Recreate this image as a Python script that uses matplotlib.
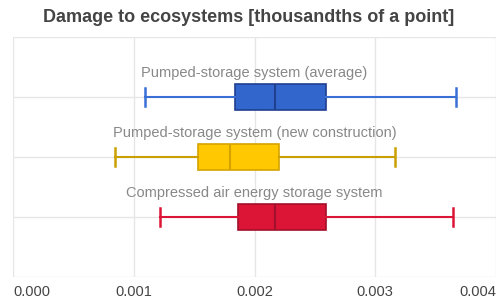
import matplotlib
matplotlib.use("Agg")
import matplotlib.pyplot as plt

plt.rcParams['font.family'] = ['Liberation Sans', 'DejaVu Sans']

categories = ["Compressed air energy storage system",
              "Pumped-storage system (new construction)",
              "Pumped-storage system (average)"]
whislo = [0.00122, 0.000843, 0.00109]
q1 = [0.001865, 0.00153, 0.00184]
med = [0.00217, 0.00180, 0.00217]
q3 = [0.00259, 0.00220, 0.00259]
whishi = [0.00364, 0.00316, 0.00367]
xticks = [0.0, 0.001, 0.002, 0.003, 0.004]
xticklabels = ["0.000", "0.001", "0.002", "0.003", "0.004"]

fills = ["#dc1436", "#ffc800", "#3366cc"]
edges = ["#a3102b", "#d4a300", "#1f3f8f"]
whisk = ["#dc1436", "#c9a000", "#3a6fd6"]

fig = plt.figure(figsize=(4.97, 3.0), dpi=100)
ax = fig.add_axes([13/497, 23/300, 483/497, 240/300])

for i in range(len(categories)):
    st = [dict(med=med[i], q1=q1[i], q3=q3[i], whislo=whislo[i], whishi=whishi[i], label=categories[i])]
    ax.bxp(st, positions=[i], vert=False, widths=0.43, showfliers=False,
           patch_artist=True, capwidths=0.29,
           boxprops=dict(facecolor=fills[i], edgecolor=edges[i], linewidth=1.2),
           medianprops=dict(color=edges[i], linewidth=1.5),
           whiskerprops=dict(color=whisk[i], linewidth=1.5),
           capprops=dict(color=whisk[i], linewidth=1.8), zorder=3)
    ax.text(0.002, i + 0.4, categories[i], ha='center', va='center',
            fontsize=10.5, color='#888888', zorder=4)

ax.set_xlim(0, 0.004)
ax.set_ylim(-1, 3)
ax.set_yticks([-1, 0, 1, 2, 3])
ax.set_yticklabels([])
ax.tick_params(axis='y', length=0)
ax.set_xticks(xticks)
ax.set_xticklabels(xticklabels, fontsize=10.5, color='#444444')
ax.tick_params(axis='x', length=0, pad=6)
labs = ax.get_xticklabels()
labs[0].set_ha('left')
labs[-1].set_ha('right')
ax.grid(True, color='#e6e6e6', linewidth=1, zorder=0)
for s in ax.spines.values():
    s.set_visible(False)

fig.text(0.5, 1 - 18/300, "Damage to ecosystems [thousandths of a point]",
         ha='center', va='center', fontsize=13, fontweight='bold', color='#444444')

fig.savefig("out.png", dpi=100)
